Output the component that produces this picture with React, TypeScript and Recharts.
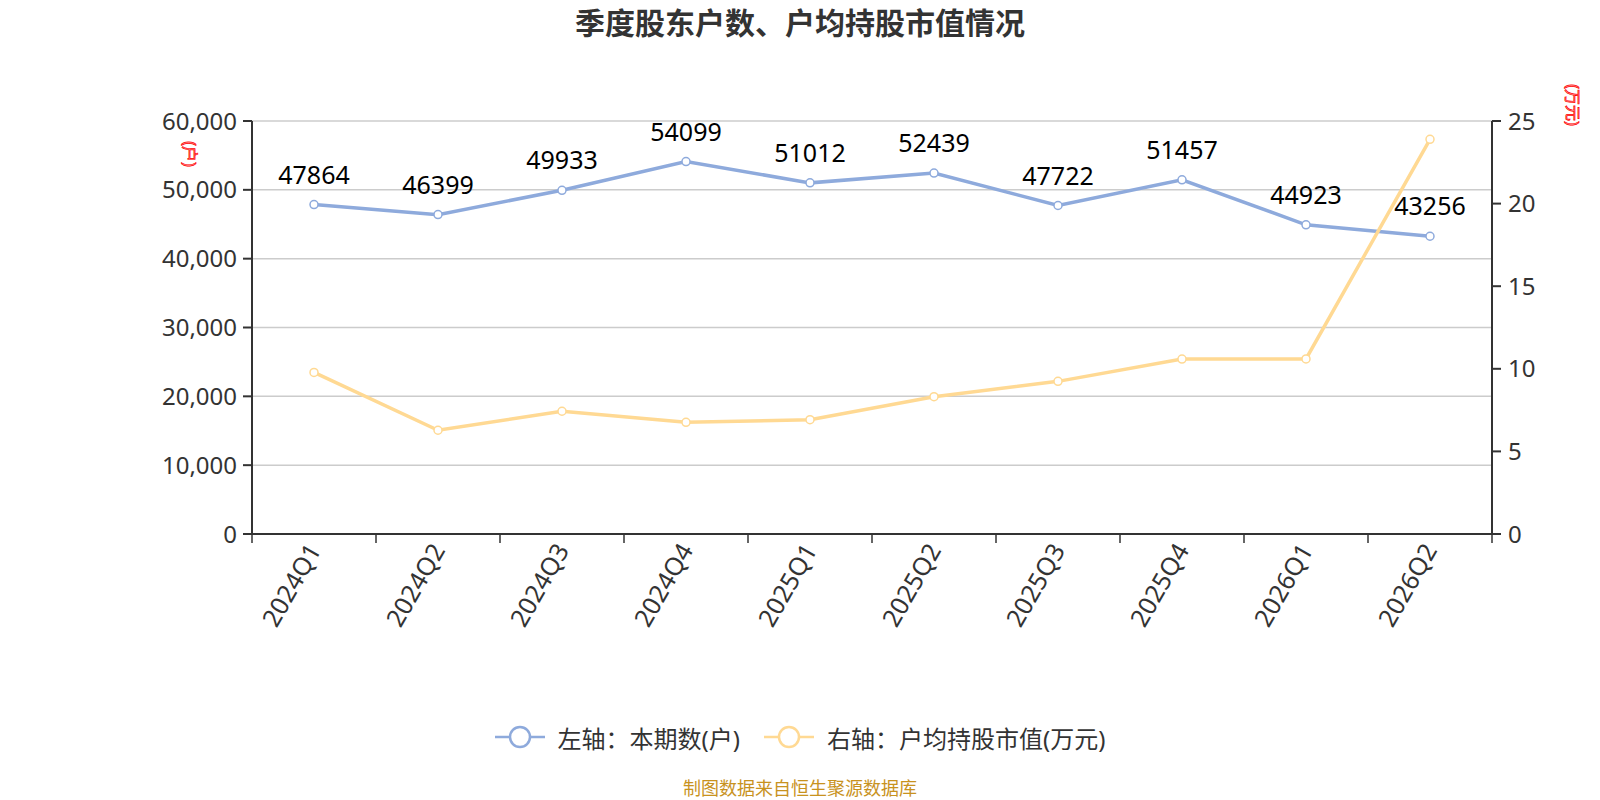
import { CartesianGrid, LabelList, Line, LineChart, XAxis, YAxis } from "recharts";

const quarters = ["2024Q1", "2024Q2", "2024Q3", "2024Q4", "2025Q1", "2025Q2", "2025Q3", "2025Q4", "2026Q1", "2026Q2"];
const holders = [47864, 46399, 49933, 54099, 51012, 52439, 47722, 51457, 44923, 43256];
const avgValue = [9.78, 6.28, 7.43, 6.76, 6.92, 8.31, 9.24, 10.59, 10.6, 23.89];
const leftTicks = [0, 10000, 20000, 30000, 40000, 50000, 60000];
const rightTicks = [0, 5, 10, 15, 20, 25];
const seriesNames = ["左轴：本期数(户)", "右轴：户均持股市值(万元)"];
const seriesColors = ["#8eaadc", "#ffd993"];

const data = quarters.map((q, i) => ({ quarter: q, holders: holders[i], avgValue: avgValue[i] }));

const FONT = "'Noto Sans', 'Noto Sans CJK SC', sans-serif";
const AXIS = "#333";
const HALF_BAND = 62;

function QuarterTick({ x, y, payload, index }: any) {
  return (
    <g>
      <line x1={x - HALF_BAND} y1={y} x2={x - HALF_BAND} y2={y + 9} stroke={AXIS} strokeWidth={1.5} />
      {index === quarters.length - 1 && (
        <line x1={x + HALF_BAND} y1={y} x2={x + HALF_BAND} y2={y + 9} stroke={AXIS} strokeWidth={1.5} />
      )}
      <text
        x={x + 8}
        y={y + 16}
        transform={`rotate(-60 ${x + 8} ${y + 16})`}
        textAnchor="end"
        fill="#333"
        fontSize={25}
        fontFamily={FONT}
      >
        {payload.value}
      </text>
    </g>
  );
}

function UnitLabel({ viewBox, value, dx, dy }: any) {
  const cx = viewBox.x + dx;
  const cy = viewBox.y + dy;
  return (
    <text
      x={cx}
      y={cy}
      transform={`rotate(90 ${cx} ${cy})`}
      textAnchor="middle"
      dominantBaseline="central"
      fill="#ff9a9a"
      stroke="#ff0000"
      strokeWidth={0.7}
      fontSize={16}
      fontFamily={FONT}
    >
      {value}
    </text>
  );
}

export default function App() {
  return (
    <div style={{ position: "absolute", left: 0, top: 0, width: 1600, height: 800, background: "#fff", fontFamily: FONT }}>
      <div
        style={{
          position: "absolute",
          top: 0,
          left: 0,
          width: 1600,
          height: 46,
          lineHeight: "46px",
          textAlign: "center",
          fontSize: 30,
          fontWeight: "bold",
          color: "#333",
        }}
      >
        季度股东户数、户均持股市值情况
      </div>
      <LineChart width={1600} height={800} data={data} margin={{ top: 121, right: 28, bottom: 166, left: 172 }}>
        <CartesianGrid yAxisId="left" vertical={false} stroke="#cccccc" strokeWidth={1.5} />
        <XAxis
          dataKey="quarter"
          height={100}
          padding={{ left: HALF_BAND, right: HALF_BAND }}
          tickSize={0}
          tickMargin={0}
          tickLine={false}
          axisLine={{ stroke: AXIS, strokeWidth: 2 }}
          tick={<QuarterTick />}
          interval={0}
        />
        <YAxis
          yAxisId="left"
          width={80}
          domain={[0, 60000]}
          ticks={leftTicks}
          tickFormatter={(v: number) => v.toLocaleString("en-US")}
          tick={{ fill: "#333", fontSize: 24, fontFamily: FONT }}
          tickSize={9}
          tickMargin={6}
          tickLine={{ stroke: AXIS, strokeWidth: 2 }}
          axisLine={{ stroke: AXIS, strokeWidth: 2 }}
          label={<UnitLabel value="(户)" dx={18} dy={33} />}
        />
        <YAxis
          yAxisId="right"
          orientation="right"
          width={80}
          domain={[0, 25]}
          ticks={rightTicks}
          tick={{ fill: "#333", fontSize: 24, fontFamily: FONT }}
          tickSize={9}
          tickMargin={7}
          tickLine={{ stroke: AXIS, strokeWidth: 2 }}
          axisLine={{ stroke: AXIS, strokeWidth: 2 }}
          label={<UnitLabel value="(万元)" dx={81} dy={-16} />}
        />
        <Line
          yAxisId="left"
          dataKey="holders"
          stroke={seriesColors[0]}
          strokeWidth={3.5}
          dot={{ r: 4, fill: "#fff", stroke: seriesColors[0], strokeWidth: 1.5 }}
          activeDot={false}
          isAnimationActive={false}
        >
          <LabelList dataKey="holders" position="top" offset={21} fill="#000" fontSize={25} fontFamily={FONT} />
        </Line>
        <Line
          yAxisId="right"
          dataKey="avgValue"
          stroke={seriesColors[1]}
          strokeWidth={3.5}
          dot={{ r: 4, fill: "#fff", stroke: seriesColors[1], strokeWidth: 1.5 }}
          activeDot={false}
          isAnimationActive={false}
        />
      </LineChart>
      <div
        style={{
          position: "absolute",
          top: 720,
          left: 0,
          width: 1600,
          height: 34,
          display: "flex",
          justifyContent: "center",
          alignItems: "center",
          gap: 24,
        }}
      >
        {seriesNames.map((name, i) => (
          <div key={name} style={{ display: "flex", alignItems: "center" }}>
            <svg width={50} height={24} style={{ marginRight: 13 }}>
              <line x1={0} y1={12} x2={50} y2={12} stroke={seriesColors[i]} strokeWidth={2.5} />
              <circle cx={25} cy={12} r={10} fill="#fff" stroke={seriesColors[i]} strokeWidth={2.5} />
            </svg>
            <span style={{ fontSize: 24, color: "#333" }}>{name}</span>
          </div>
        ))}
      </div>
      <div
        style={{
          position: "absolute",
          top: 776,
          left: 0,
          width: 1600,
          height: 24,
          lineHeight: "24px",
          textAlign: "center",
          fontSize: 18,
          color: "#c8921e",
        }}
      >
        制图数据来自恒生聚源数据库
      </div>
    </div>
  );
}
